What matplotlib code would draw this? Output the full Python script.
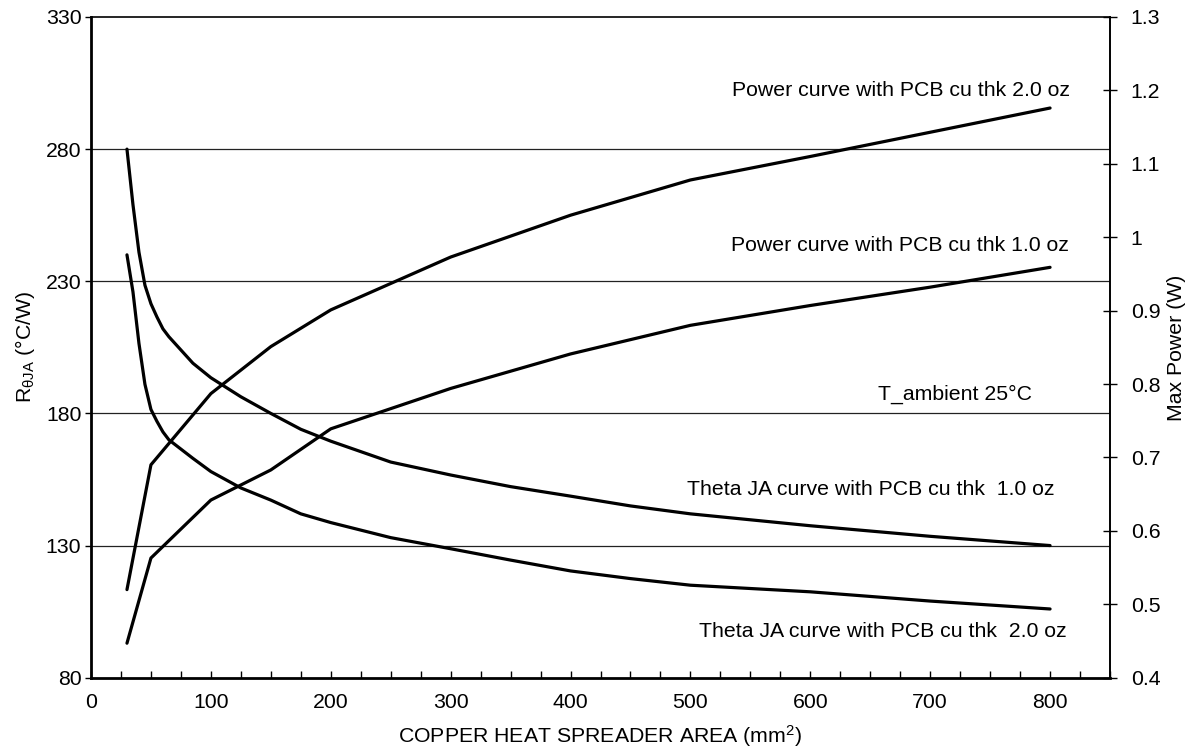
import matplotlib
matplotlib.use("Agg")
import matplotlib.pyplot as plt
from matplotlib.ticker import FixedLocator, FuncFormatter

plt.rcParams['font.family'] = ['Liberation Sans', 'DejaVu Sans']
plt.rcParams['mathtext.fontset'] = 'custom'
plt.rcParams['mathtext.rm'] = 'Liberation Sans'
plt.rcParams['mathtext.it'] = 'Liberation Sans:italic'
plt.rcParams['mathtext.bf'] = 'Liberation Sans:bold'

# ---- data ----
area_power = [30, 50, 100, 150, 200, 300, 400, 500, 600, 700, 800]
power_2oz = [0.520, 0.690, 0.787, 0.851, 0.901, 0.973, 1.030, 1.078, 1.110, 1.143, 1.176]
power_1oz = [0.447, 0.563, 0.642, 0.683, 0.739, 0.794, 0.841, 0.880, 0.907, 0.932, 0.959]

area_theta = [30, 35, 40, 45, 50, 55, 60, 65, 75, 85, 100, 125, 150, 175, 200,
              250, 300, 350, 400, 450, 500, 600, 700, 800]
theta_1oz = [280, 259, 241, 228.5, 221.5, 216.5, 212, 209, 204, 199, 193.5, 186.3, 180, 174, 169.5,
             161.6, 156.7, 152.3, 148.7, 145, 142, 137.5, 133.5, 130]
theta_2oz = [240, 226, 206.5, 191, 181.5, 177, 173, 170, 166.5, 163, 158, 151.8, 147.2, 142, 138.7,
             133, 128.8, 124.5, 120.4, 117.5, 115, 112.5, 109, 106]

ambient_lines = [130, 180, 230, 280]

left_ticks = [80, 130, 180, 230, 280, 330]
right_ticks = [0.4, 0.5, 0.6, 0.7, 0.8, 0.9, 1.0, 1.1, 1.2, 1.3]
x_major = [0, 100, 200, 300, 400, 500, 600, 700, 800]
x_minor = list(range(0, 851, 25))

labels = [
    ("Power curve with PCB cu thk 2.0 oz", 816.7, 302.2),
    ("Power curve with PCB cu thk 1.0 oz", 815.9, 243.4),
    ("T_ambient 25\u00b0C", 785.0, 187.3),
    ("Theta JA curve with PCB cu thk  1.0 oz", 803.3, 151.1),
    ("Theta JA curve with PCB cu thk  2.0 oz", 814.2, 97.3),
]

# ---- figure ----
fig = plt.figure(figsize=(11.91, 7.53), dpi=100)
ax = fig.add_axes([91/1191, 1-677.7/753, (1110-91)/1191, (677.7-17)/753])
ax2 = ax.twinx()

fs = 15.3
lw_curve = 2.3

for y in ambient_lines:
    ax.axhline(y, color='#222222', lw=0.9, zorder=1)

style = dict(color='black', lw=lw_curve, solid_capstyle='round', solid_joinstyle='round', zorder=3)
ax.plot(area_theta, theta_1oz, **style)
ax.plot(area_theta, theta_2oz, **style)
ax2.plot(area_power, power_2oz, **style)
ax2.plot(area_power, power_1oz, **style)

ax.set_xlim(0, 850)
ax.set_ylim(80, 330)
ax2.set_ylim(0.4, 1.3)

# x ticks
ax.xaxis.set_major_locator(FixedLocator(x_minor))
ax.xaxis.set_major_formatter(FuncFormatter(lambda v, p: f"{int(v)}" if v in x_major else ""))
ax.tick_params(axis='x', direction='in', length=5, width=1.0, labelsize=fs, pad=11)

# left y ticks
ax.set_yticks(left_ticks)
ax.tick_params(axis='y', direction='out', length=4, width=1.0, labelsize=fs, pad=3)

# right y ticks
ax2.set_yticks(right_ticks)
ax2.yaxis.set_major_formatter(FuncFormatter(lambda v, p: f"{v:g}"))
ax2.tick_params(axis='y', direction='inout', length=10, width=1.0, labelsize=fs, pad=10)

# spines
ax.spines['left'].set_linewidth(2.0)
ax.spines['bottom'].set_linewidth(2.0)
ax.spines['top'].set_linewidth(1.2)
ax.spines['right'].set_linewidth(1.2)
for s in ['left', 'bottom', 'top']:
    ax2.spines[s].set_visible(False)
ax2.spines['right'].set_linewidth(1.2)

ax.set_xlabel("COPPER HEAT SPREADER AREA (mm$^2$)", fontsize=fs, labelpad=8)
ax.set_ylabel("R$_{\\mathregular{\u03b8JA}}$ (\u00b0C/W)", fontsize=fs, labelpad=6)
ax2.set_ylabel("Max Power (W)", fontsize=fs, labelpad=5)

for txt, x, y in labels:
    ax.text(x, y, txt, ha='right', va='center', fontsize=fs, zorder=4)

fig.savefig("out.png", dpi=100)
